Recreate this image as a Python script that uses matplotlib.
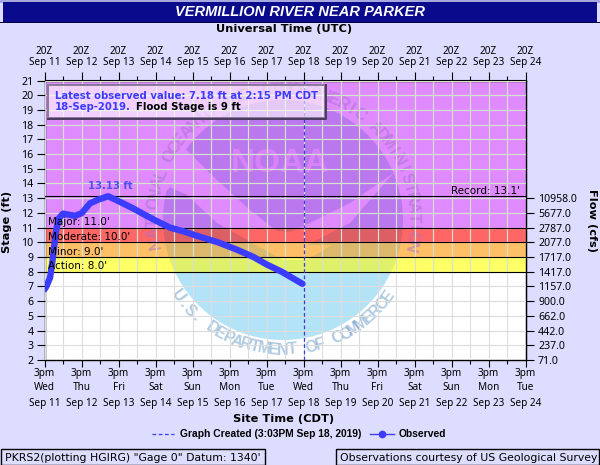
import numpy as np
import matplotlib
matplotlib.use('Agg')
import matplotlib.pyplot as plt
from matplotlib.patches import Rectangle, Polygon
from matplotlib.lines import Line2D
from matplotlib.transforms import Affine2D

# hydrograph, days since 3pm CDT Sep 11
obs_days = [0, 0.05, 0.15, 0.22, 0.3, 0.38, 0.5, 0.82, 1.0, 1.23, 1.45, 1.72, 1.95, 2.4, 2.76,
            3.03, 3.39, 3.75, 4.11, 4.69, 5.2, 5.65, 6.0, 6.41, 6.97]
obs_stage = [6.8, 7.0, 7.6, 8.8, 10.6, 11.6, 11.95, 11.8, 11.97, 12.65, 12.9, 13.13, 12.86, 12.3, 11.8,
             11.45, 11.0, 10.75, 10.45, 10.0, 9.5, 9.0, 8.5, 8.0, 7.18]
created_day = 7.0

dates = ['Sep %d' % d for d in range(11, 25)]
weekdays = ['Wed', 'Thu', 'Fri', 'Sat', 'Sun', 'Mon', 'Tue'] * 2
stage_ticks = list(range(2, 22))
flow_stage = list(range(2, 14))
flow_labels = ['71.0', '237.0', '442.0', '662.0', '900.0', '1157.0', '1417.0', '1717.0',
               '2077.0', '2787.0', '5677.0', '10958.0']

band_edges = [8, 9, 10, 11, 21]
band_colors = ['#ffff66', '#ffbf66', '#ff6666', '#df8aff']
seal_colors = ['#dff06a', '#dcb86c', '#dd5f66', '#bb77ee']
flood_levels = [8, 9, 10, 11]
flood_names = ["Action: 8.0'", "Minor: 9.0'", "Moderate: 10.0'", "Major: 11.0'"]
record = 13.13

BG = '#ddddff'
BLUE = '#3c3cff'
plt.rcParams['font.family'] = 'Noto Sans'
plt.rcParams['font.size'] = 7

W, H = 600, 465
fig = plt.figure(figsize=(W / 100, H / 100), dpi=100, facecolor=BG)
ax = fig.add_axes([44.5 / W, 1 - 360 / H, 481 / W, 279.5 / H], facecolor='white')
ax.set_xlim(0, 13)
ax.set_ylim(2, 21)

def ftext(x, y, s, **kw):
    kw.setdefault('ha', 'center')
    kw.setdefault('va', 'center')
    return fig.text(x / W, 1 - y / H, s, **kw)

# bands
for i, c in enumerate(band_colors):
    ax.axhspan(band_edges[i], band_edges[i + 1], color=c, lw=0, zorder=1)

# watermark, in picture pixels
px = Affine2D().scale(1, -1).translate(0, H)
cx, cy, r = 283, 220, 120

def arc(a0, a1):
    t = np.radians(np.linspace(a0, a1, 80))
    return np.c_[cx + r * np.cos(t), cy - r * np.sin(t)]

upper = np.vstack([arc(144, 23),
                   [[350, 203], [310, 223], [290, 232], [277, 231], [250, 210], [217, 180]]])
lower = np.vstack([arc(166, 383),
                   [[350, 223], [307, 245], [332, 245], [307, 260], [283, 260], [265, 250],
                    [217, 223], [187, 195], [170, 187]]])
for i, c in enumerate(seal_colors):
    rect = Rectangle((0, band_edges[i]), 13, band_edges[i + 1] - band_edges[i], transform=ax.transData)
    for pts in (upper, lower):
        p = Polygon(pts, closed=True, fc=c, ec='none', transform=px, zorder=2)
        ax.add_patch(p)
        p.set_clip_path(rect)
rect = Rectangle((0, 2), 13, 6, transform=ax.transData)
p = Polygon(lower, closed=True, fc='#b3e3f7', ec='none', transform=px, zorder=2)
ax.add_patch(p)
p.set_clip_path(rect)

ax.text(280, 163, 'NOAA', transform=px, family='Liberation Sans', fontsize=24, color='#d882f8',
        fontweight='bold', ha='center', va='center', zorder=2.2)

def ring(s, a0, a1, radius, color, bottom=False):
    for ch, a in zip(s, np.linspace(a0, a1, len(s))):
        t = np.radians(a)
        x = cx + radius * np.cos(t)
        y = cy - radius * np.sin(t)
        ax.text(x, y, ch, transform=px, family='Liberation Sans',
                fontweight='bold', fontsize=11.5, color=color, alpha=0.55, ha='center', va='center',
                rotation=a + 90 if bottom else a - 90, rotation_mode='anchor', zorder=2.2, clip_on=True)

ring('NATIONAL OCEANIC AND ATMOSPHERIC ADMINISTRATION', 190, -12, 130, '#a970cd')
ring('U.S. DEPARTMENT OF COMMERCE', 216, 324, 130, '#6f9fc8', bottom=True)

# grid, gray on white and paler green over the flood bands
ax.set_xticks(np.arange(0, 14))
ax.set_xticks(np.arange(0.5, 13), minor=True)
ax.set_yticks(stage_ticks)
ax.set_axisbelow(False)
ax.grid(True, which='both', color='#dcdcdc', lw=0.8)
ax.vlines(np.arange(0.5, 13, 0.5), 8, 21, color='#d4e2ce', lw=0.8, zorder=2.6)
ax.hlines(stage_ticks[7:], 0, 13, color='#d4e2ce', lw=0.8, zorder=2.6)

ax.set_xticklabels(['3pm\n' + w for w in weekdays], linespacing=1.4)
ax.tick_params(axis='x', which='major', length=5, width=0.8, pad=0.5, labelsize=7.2)
ax.tick_params(axis='x', which='minor', length=3, width=0.8)
ax.tick_params(axis='y', length=6, width=0.8, pad=2, labelsize=7.6)

for lev in flood_levels + [record]:
    ax.axhline(lev, color='black', lw=0.8, zorder=5)

ax.axvline(created_day, color='#3c3cd8', lw=0.9, ls=(0, (3, 2)), zorder=6)
ax.plot(obs_days, obs_stage, color=BLUE, lw=4.6, solid_capstyle='round', solid_joinstyle='round', zorder=7)
for lev, name in zip(flood_levels, flood_names):
    ax.text(0.1, lev + 0.03, name, va='bottom', ha='left', fontsize=7.5, family='DejaVu Sans', zorder=8)
ax.text(12.85, record + 0.02, "Record: 13.1'", va='bottom', ha='right', fontsize=7.5, family='DejaVu Sans', zorder=8)
ax.text(1.78, 13.5, '13.13 ft', color='#5050f0', fontweight='bold', fontsize=7.2, ha='center',
        va='bottom', zorder=8, family='DejaVu Sans')

# top axis
top = ax.secondary_xaxis('top')
top.set_xticks(np.arange(0, 14))
top.set_xticks(np.arange(0.5, 13), minor=True)
top.set_xticklabels(['' for d in dates])
top.tick_params(which='major', length=6, width=0.8)
top.tick_params(which='minor', length=3, width=0.8)
for i, d in enumerate(dates):
    x = 44.5 + i * 481 / 13
    ftext(x, 51, '20Z', fontsize=7.2)
    ftext(x, 63, d, fontsize=7.2)
    ftext(x, 403, d, fontsize=7.2)

# right axis
right = ax.secondary_yaxis('right')
right.set_yticks(flow_stage)
right.set_yticklabels(flow_labels)
right.tick_params(length=6, width=0.8, pad=3, labelsize=7.6)
for s in ax.spines.values():
    s.set_linewidth(1)

# title bar
fig.add_artist(Rectangle((0, 1 - 3 / H), 1, 3 / H, transform=fig.transFigure, fc='#a8a8e0', ec='none'))
fig.add_artist(Rectangle((3 / W, 1 - 22 / H), 594 / W, 20 / H, transform=fig.transFigure, fc='#0a0a8c', ec='none'))
fig.add_artist(Rectangle((0, 1 - 23 / H), 1, 1.2 / H, transform=fig.transFigure, fc='#000040', ec='none'))
ftext(300, 12.5, 'VERMILLION RIVER NEAR PARKER', color='white', family='Liberation Sans',
      fontweight='bold', fontstyle='italic', fontsize=10.5)
ftext(284, 29.5, 'Universal Time (UTC)', fontweight='bold', fontsize=8.2, family='DejaVu Sans')
ftext(284, 418.5, 'Site Time (CDT)', fontweight='bold', fontsize=8.2, family='DejaVu Sans')
ftext(7, 222, 'Stage (ft)', rotation=90, fontweight='bold', fontsize=8.2, family='DejaVu Sans')
ftext(592, 220, 'Flow (cfs)', rotation=270, fontweight='bold', fontsize=8.2, family='DejaVu Sans')

# info box
fig.add_artist(Rectangle((48 / W, 1 - 118 / H), 277 / W, 33 / H, transform=fig.transFigure, fc='white', alpha=0.6,
                         ec='none', zorder=9))
fig.add_artist(Rectangle((48 / W, 1 - 118 / H), 277 / W, 33 / H, transform=fig.transFigure, fc='none',
                         ec='#8a7a9a', lw=1.4, zorder=9))
fig.add_artist(Line2D([48 / W, 326 / W, 326 / W], [1 - 119 / H, 1 - 119 / H, 1 - 85 / H], color='#4a3a60', lw=1.4, zorder=9))
ftext(55, 96, 'Latest observed value: 7.18 ft at 2:15 PM CDT', ha='left', color=BLUE, fontweight='bold',
      fontsize=7.25, family='DejaVu Sans', zorder=10)
ftext(55, 107, '18-Sep-2019.', ha='left', color=BLUE, fontweight='bold', fontsize=7.25,
      family='DejaVu Sans', zorder=10)
ftext(136, 107, 'Flood Stage is 9 ft', ha='left', fontweight='bold', fontsize=7.25,
      family='DejaVu Sans', zorder=10)

# legend row
fig.add_artist(Line2D([152 / W, 174 / W], [1 - 434 / H] * 2, color=BLUE, lw=0.9, ls=(0, (3, 2))))
ftext(180, 434, 'Graph Created (3:03PM Sep 18, 2019)', ha='left', fontweight='bold', fontsize=7.4,
      family='Liberation Sans')
fig.add_artist(Line2D([370 / W, 394 / W], [1 - 434 / H] * 2, color=BLUE, lw=1))
fig.add_artist(Line2D([382 / W], [1 - 434 / H], color=BLUE, marker='o', ms=4.5))
ftext(399, 434, 'Observed', ha='left', fontweight='bold', fontsize=7.4, family='Liberation Sans')

# footer boxes
fig.add_artist(Rectangle((0.5 / W, 0.5 / H), 264 / W, 15.5 / H, transform=fig.transFigure, fc='none', ec='black', lw=1))
fig.add_artist(Rectangle((336 / W, 0.5 / H), 263 / W, 15.5 / H, transform=fig.transFigure, fc='none', ec='black', lw=1))
ftext(5, 458, 'PKRS2(plotting HGIRG) "Gage 0" Datum: 1340\'', ha='left', fontsize=7.8, family='DejaVu Sans')
ftext(340, 458, 'Observations courtesy of US Geological Survey', ha='left', fontsize=7.8, family='DejaVu Sans')

fig.savefig('out.png', dpi=100, facecolor=BG)
